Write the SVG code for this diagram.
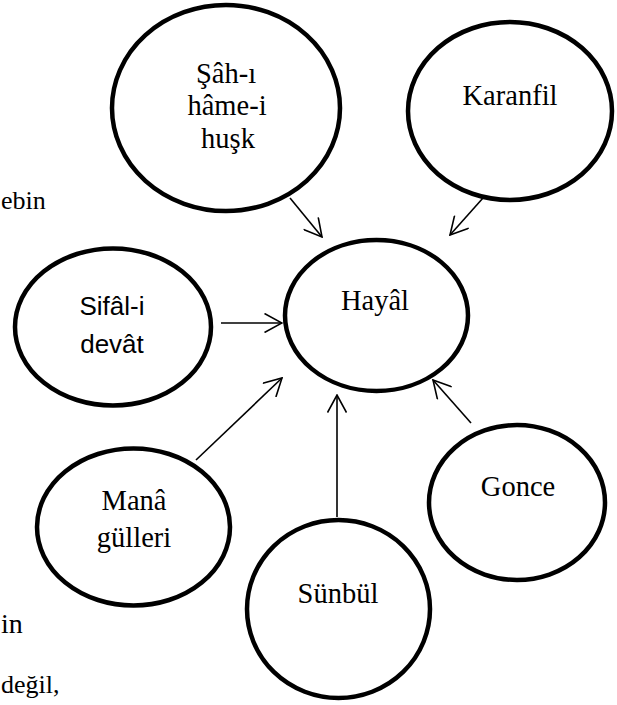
<svg xmlns="http://www.w3.org/2000/svg" width="617" height="705" viewBox="0 0 617 705">
  <style>
    .node { fill: #ffffff; stroke: #000000; stroke-width: 4.5; }
    .lbl { font-family: "Liberation Serif", "Times New Roman", serif; font-size: 28.5px; fill: #000000; text-anchor: middle; }
    .lbl-sans { font-family: "Liberation Sans", Arial, sans-serif; font-size: 26px; fill: #000000; text-anchor: middle; }
    .page { font-family: "Liberation Serif", "Times New Roman", serif; font-size: 26px; fill: #000000; }
    .edge { stroke: #000000; stroke-width: 1.6; fill: none; marker-end: url(#open-arrow); }
  </style>
  <defs>
    <marker id="open-arrow" viewBox="0 0 20 20" refX="19" refY="10" markerWidth="20" markerHeight="20" markerUnits="userSpaceOnUse" orient="auto">
      <path d="M1.5,0.5 L19,10 L1.5,19.5" fill="none" stroke="#000000" stroke-width="1.6"/>
    </marker>
  </defs>

  <rect x="0" y="0" width="617" height="705" fill="#ffffff"/>

  <!-- running text of the page around the figure -->
  <g id="page-text">
    <text class="page" x="1" y="209">ebin</text>
    <text class="page" x="1" y="633" style="font-size:28px">in</text>
    <text class="page" x="1" y="693">değil,</text>
  </g>

  <!-- connectors -->
  <g id="connectors">
    <line class="edge" x1="290" y1="198" x2="322" y2="237"/>
    <line class="edge" x1="483" y1="198" x2="450" y2="235"/>
    <line class="edge" x1="221" y1="323" x2="282" y2="323"/>
    <line class="edge" x1="196" y1="460" x2="282" y2="378"/>
    <line class="edge" x1="337" y1="517" x2="337" y2="395"/>
    <line class="edge" x1="471" y1="423" x2="433" y2="380"/>
  </g>

  <g id="node-sah">
    <ellipse class="node" cx="226" cy="108" rx="114" ry="103"/>
    <text class="lbl" x="226" y="83">Şâh-ı</text>
    <text class="lbl" x="227" y="115">hâme-i</text>
    <text class="lbl" x="228" y="148">huşk</text>
  </g>

  <g id="node-karanfil">
    <ellipse class="node" cx="510" cy="111" rx="102" ry="89"/>
    <text class="lbl" x="510" y="105">Karanfil</text>
  </g>

  <g id="node-hayal">
    <ellipse class="node" cx="376.5" cy="315.5" rx="91.5" ry="75.5"/>
    <text class="lbl" x="375" y="310">Hayâl</text>
  </g>

  <g id="node-sifal">
    <ellipse class="node" cx="113" cy="327" rx="98" ry="78.5"/>
    <text class="lbl-sans" x="112" y="315">Sifâl-i</text>
    <text class="lbl-sans" x="112" y="353">devât</text>
  </g>

  <g id="node-mana">
    <ellipse class="node" cx="133.5" cy="527" rx="96.5" ry="78.5"/>
    <text class="lbl" x="134" y="510">Manâ</text>
    <text class="lbl" x="134" y="547">gülleri</text>
  </g>

  <g id="node-sunbul">
    <ellipse class="node" cx="338.5" cy="609" rx="91.5" ry="89"/>
    <text class="lbl" x="338" y="603">Sünbül</text>
  </g>

  <g id="node-gonce">
    <ellipse class="node" cx="517" cy="502.5" rx="88" ry="77.5"/>
    <text class="lbl" x="518" y="496">Gonce</text>
  </g>
</svg>
